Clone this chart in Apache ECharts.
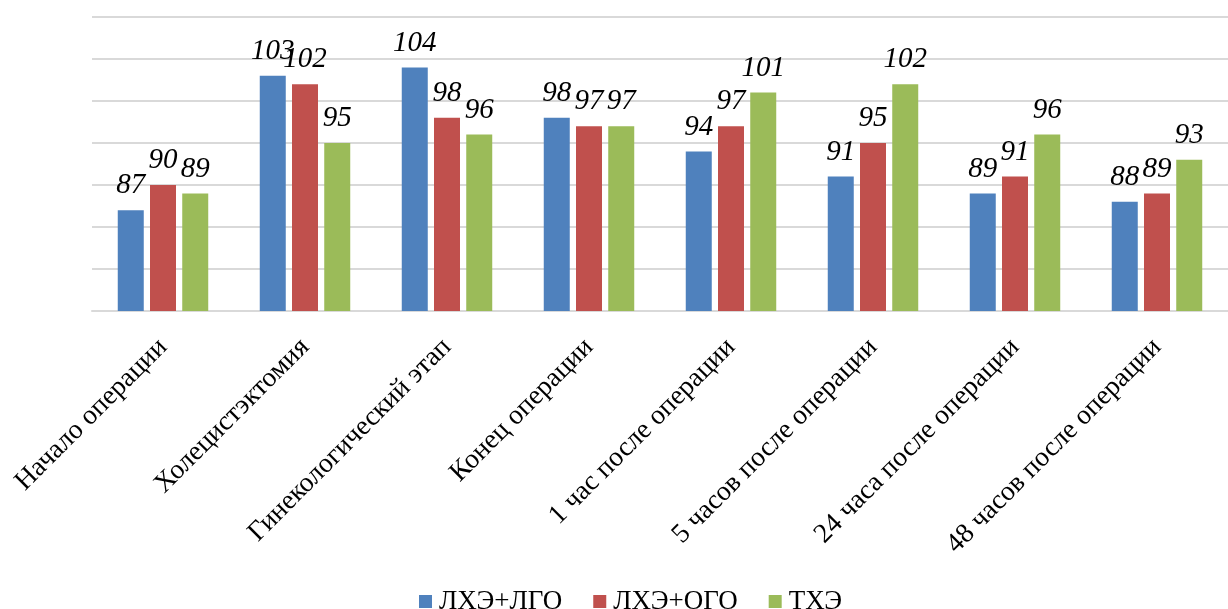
<!DOCTYPE html>
<html><head><meta charset="utf-8">
<script src="https://cdn.jsdelivr.net/npm/echarts@6/dist/echarts.min.js"></script>
<style>html,body{margin:0;padding:0;background:#fff}#c{width:1228px;height:609px}</style>
</head><body><div id="c"></div>
<script>
const categories = ['Начало операции','Холецистэктомия','Гинекологический этап','Конец операции','1 час после операции','5 часов после операции','24 часа после операции','48 часов после операции'];
const seriesNames = ['ЛХЭ+ЛГО','ЛХЭ+ОГО','ТХЭ'];
const lhoLgo = [87,103,104,98,94,91,89,88];
const lhoOgo = [90,102,98,97,97,95,91,89];
const the = [89,95,96,97,101,102,96,93];
const colors = ['#4F81BD','#C0504D','#9BBB59'];
const font = '"Liberation Serif","Times New Roman",serif';
const chart = echarts.init(document.getElementById('c'));
const mk = (name, data, color) => ({
  name, type:'bar', data, barWidth:26, barGap:'24%',
  itemStyle:{color},
  label:{show:true, position:'top', distance:10, fontFamily:font, fontStyle:'italic', fontSize:29, color:'#000'}
});
chart.setOption({
  animation:false,
  grid:{left:92, top:17, width:1149, height:294},
  legend:{top:583, left:414, itemWidth:13, itemHeight:13, itemGap:31, icon:'rect',
    textStyle:{fontFamily:font, fontSize:27, color:'#000', padding:[0,0,0,2]}, data:seriesNames},
  xAxis:{type:'category', data:categories,
    axisLine:{lineStyle:{color:'#D9D9D9', width:2}}, axisTick:{show:false},
    axisLabel:{rotate:45, interval:0, margin:32, fontFamily:font, fontSize:27.5, color:'#000'}},
  yAxis:{type:'value', min:75, max:110, interval:5,
    axisLabel:{show:false}, axisLine:{show:false}, axisTick:{show:false},
    splitLine:{lineStyle:{color:'#D9D9D9', width:2}}},
  series:[mk(seriesNames[0], lhoLgo, colors[0]), mk(seriesNames[1], lhoOgo, colors[1]), mk(seriesNames[2], the, colors[2])]
});
</script></body></html>
